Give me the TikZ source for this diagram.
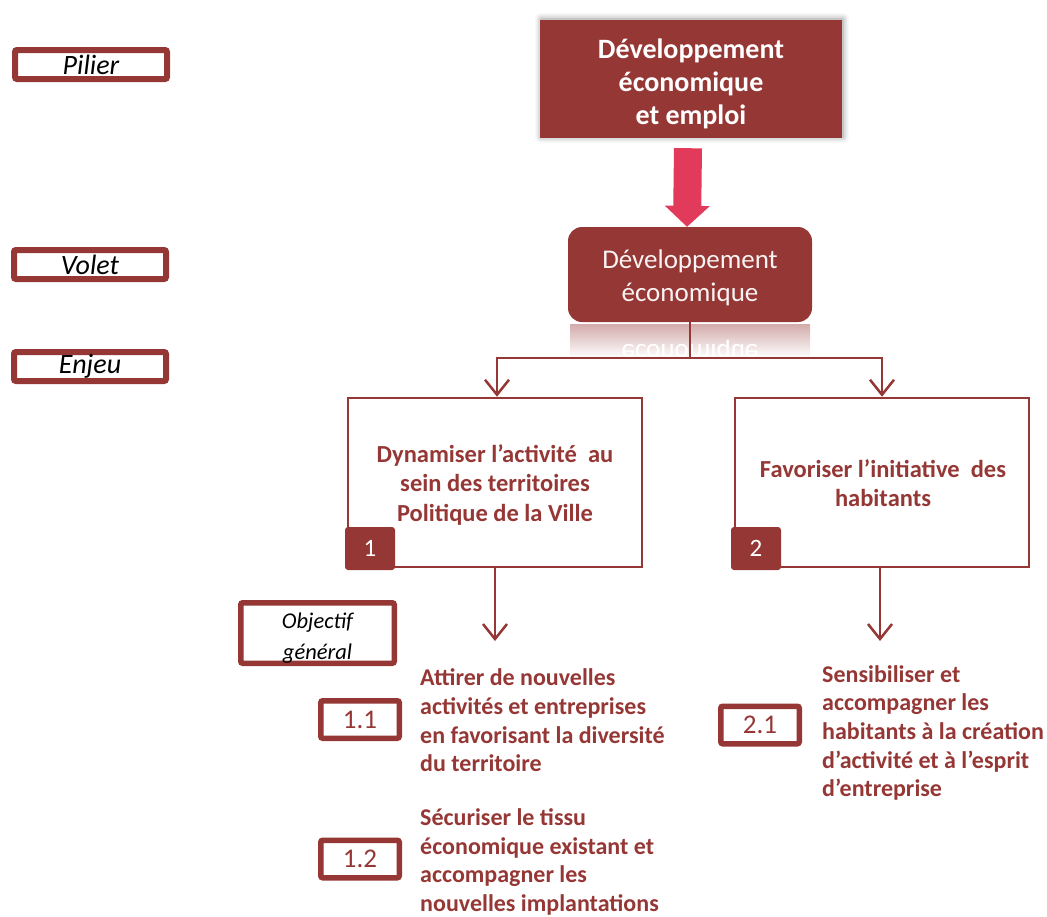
\documentclass[tikz,border=0pt]{standalone}
\usepackage{fontspec}
\setmainfont{Carlito}
\usetikzlibrary{arrows.meta,shadows.blur}
\definecolor{bord}{HTML}{953735}
\definecolor{pinkarrow}{RGB}{226,58,90}
\begin{document}
\begin{tikzpicture}[x=1pt,y=-1pt,
  lbl/.style={draw=bord, line width=6pt, rounded corners=2pt, fill=white, inner sep=0pt,
    minimum width=152pt, minimum height=29pt, font=\fontsize{28}{30}\selectfont\itshape},
  numbox/.style={draw=bord, line width=5.5pt, rounded corners=2pt, fill=white, inner sep=0pt,
    minimum width=78.5pt, minimum height=37.5pt, text=bord, font=\fontsize{27}{30}\selectfont},
  enjeubox/.style={draw=bord, line width=2.5pt, fill=white, inner sep=0pt,
    minimum width=294pt, minimum height=169pt},
  enjeutext/.style={inner sep=0pt, text=bord, align=center,
    font=\fontsize{24.5}{29.5}\selectfont\bfseries},
  badge/.style={fill=bord, rounded corners=3pt, inner sep=0pt, minimum width=50pt,
    minimum height=43pt, text=white, font=\fontsize{25}{28}\selectfont},
  objtext/.style={anchor=west, inner sep=0pt, align=left, text=bord,
    font=\fontsize{24}{28.6}\selectfont\bfseries},
  conn/.style={draw=bord, line width=2.5pt},
  vtip/.style={-{Straight Barb[length=15pt,width=24pt,line width=2.5pt]}}
]
\useasboundingbox (0,0) rectangle (1047,916);

% left labels
\node[lbl] (pilier) at (91,64.5) {Pilier};
\node[lbl] (voletlbl) at (90,264.5) {Volet};
\node[lbl] (enjeulbl) at (90,366.5) {Enjeu};
\node[draw=bord, line width=5.5pt, rounded corners=2pt, fill=white, inner sep=0pt,
  minimum width=153.5pt, minimum height=60.5pt] (objlbl) at (317.5,633) {};
\node[inner sep=0pt, align=center, font=\fontsize{22.5}{31}\selectfont\itshape]
  (objtxt) at (317.5,638) {Objectif\\général};

% pilier box
\node[fill=bord, inner sep=0pt, minimum width=302pt, minimum height=118pt,
  blur shadow={shadow xshift=1pt, shadow yshift=1pt, shadow blur radius=6pt, shadow opacity=45}]
  (pil) at (691,79) {};
\node[inner sep=0pt, text=white, align=center, font=\fontsize{28}{33}\selectfont\bfseries]
  (piltxt) at (691,84) {Développement\\économique\\et emploi};

% volet box
\node[fill=bord, rounded corners=14pt, inner sep=0pt, minimum width=244pt, minimum height=95pt]
  (vol) at (690,274.5) {};
\node[inner sep=0pt, text=white!94!bord, align=center, font=\fontsize{27}{33}\selectfont]
  (voltxt) at (690,278) {Développement\\économique};

% reflection of volet box
\shade[top color=bord!42, bottom color=white] (570,324) rectangle (810,358);
\begin{scope}
  \clip (570,324) rectangle (810,357);
  \node[yscale=-1, text=white, inner sep=0pt, font=\fontsize{27}{33}\selectfont] (refl) at (690,352) {économique};
\end{scope}

% pink arrow
\draw[pinkarrow, line width=28pt, -{Triangle[length=21pt,width=44pt]}]
  ([xshift=-3pt,yshift=-10pt]pil.south) -- ([xshift=-3pt]vol.north);

% enjeu boxes
\node[enjeubox] (e1) at (495,482.5) {};
\node[enjeutext] (e1txt) at (495,485) {Dynamiser l’activité\ \ au\\sein des territoires\\Politique de la Ville};
\node[enjeubox] (e2) at (882,482.5) {};
\node[enjeutext] (e2txt) at (883,483) {Favoriser l’initiative\ \ des\\habitants};
\node[badge] (b1) at (370,548.5) {1};
\node[badge] (b2) at (756,548.5) {2};

% tree connector
\coordinate (j) at (690,358);
\draw[conn] (vol.south) -- (j);
\draw[conn, vtip] (j) -| ([xshift=2pt]e1.north);
\draw[conn, vtip] (j) -| (e2.north);

% down arrows
\coordinate (a1) at (495,641);
\coordinate (a2) at (880,641);
\draw[conn, vtip] (e1.south) -- (a1);
\draw[conn, vtip] (e2.south -| a2) -- (a2);

% objectives
\node[numbox] (n11) at (360,719.5) {1.1};
\node[numbox] (n12) at (360,859) {1.2};
\node[numbox] (n21) at (760,725) {2.1};

\node[objtext] (t11) at (420,720.5) {Attirer de nouvelles\\activités et entreprises\\en favorisant la diversité\\du territoire};
\node[objtext] (t12) at (420,862) {Sécuriser le tissu\\économique existant et\\accompagner les\\nouvelles implantations};
\node[objtext] (t21) at (822,733) {Sensibiliser et\\accompagner les\\habitants à la création\\d’activité et à l’esprit\\d’entreprise};
\end{tikzpicture}
\end{document}
